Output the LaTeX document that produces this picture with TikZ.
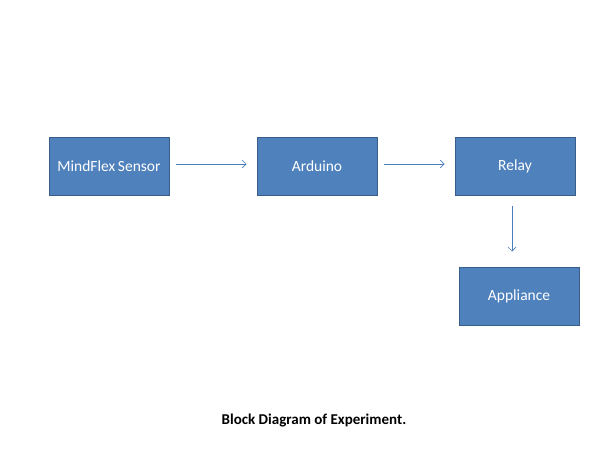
\documentclass[tikz,border=0pt]{standalone}
\usepackage{fontspec}
\setmainfont{Carlito}
\usetikzlibrary{arrows.meta}
\definecolor{boxfill}{HTML}{4F81BD}
\definecolor{boxline}{HTML}{385D8A}
\definecolor{arrowline}{HTML}{4A7EBB}
\begin{document}
\begin{tikzpicture}[x=1pt,y=-1pt,
    block/.style={draw=boxline,fill=boxfill,line width=1pt,minimum width=120pt,minimum height=58pt,inner sep=0pt,text=white,font=\fontsize{15.5}{18}\selectfont},
    arr/.style={draw=arrowline,line width=0.6pt,-{Straight Barb[length=4pt,width=8pt]}}]
  \useasboundingbox (0,0) rectangle (597,458);
  \node[block] (sensor) at (109,166) {MindFlex\,Sensor};
  \node[block] (arduino) at (317,166) {Arduino};
  \node[block] (relay) at (515,166) {Relay};
  \node[block] (appliance) at (519,296) {Appliance};
  \node[font=\fontsize{15}{18}\selectfont\bfseries] (caption) at (314,421) {Block Diagram of Experiment.};
  \draw[arr,shorten <=6pt,shorten >=10pt] ([yshift=2]sensor.east) -- ([yshift=2]arduino.west);
  \draw[arr,shorten <=6pt,shorten >=10pt] ([yshift=2]arduino.east) -- ([yshift=2]relay.west);
  \draw[arr,shorten <=10pt,shorten >=15pt] ([xshift=-3]relay.south) -- ([xshift=-7]appliance.north);
\end{tikzpicture}
\end{document}
